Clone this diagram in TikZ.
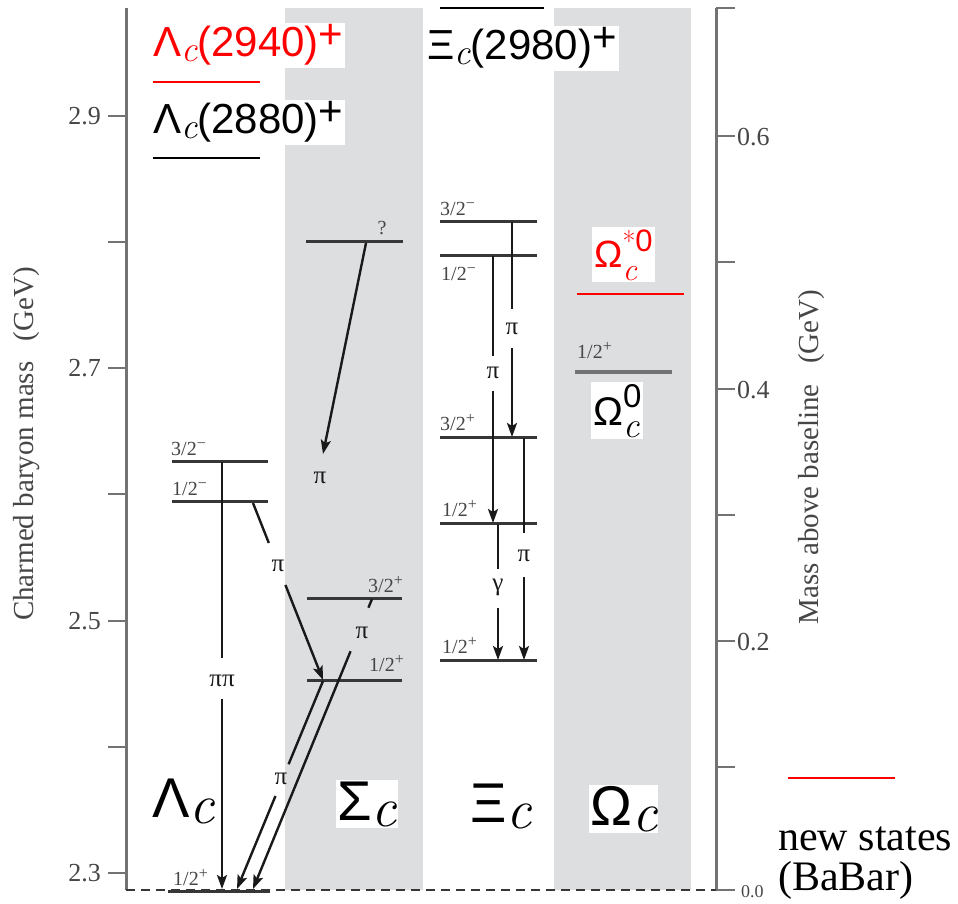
\documentclass[tikz,border=0pt]{standalone}
\usepackage{fontspec}
\usetikzlibrary{arrows.meta,calc}
\newfontfamily\lsans{Liberation Sans}
\newfontfamily\lserif{Liberation Serif}
\newcommand\fs[1]{\fontsize{#1}{#1}\selectfont}
\newcommand\itc[1]{{\fs{#1}\normalfont\itshape c}}
\newcommand\spm[1]{\raisebox{7pt}{\fs{16}#1}}
\definecolor{bandc}{RGB}{221,222,224}
\definecolor{levc}{RGB}{55,55,55}
\definecolor{arrc}{RGB}{25,25,25}
\definecolor{axc}{RGB}{115,115,115}
\definecolor{labc}{RGB}{70,70,70}
\newcommand\brk[4]{\draw[seg] (#1) -- ($(#1)!#3!(#2)$); \draw[decay] ($(#1)!#4!(#2)$) -- (#2);}
\begin{document}
\begin{tikzpicture}[x=1pt,y=-1pt,line cap=butt,
  level/.style={draw=levc,line width=3pt},
  newlvl/.style={draw=red,line width=2.2pt},
  blk/.style={draw=black,line width=2.4pt},
  decay/.style={draw=arrc,line width=2.4pt,-{Stealth[length=14pt,width=10pt,inset=3pt]}},
  seg/.style={draw=arrc,line width=2.4pt},
  jp/.style={font=\lserif\fs{20},text=labc,inner sep=0pt},
  gl/.style={font=\lserif\fs{25},text=arrc,inner sep=0pt},
  axis/.style={draw=axc,line width=3pt},
  tick/.style={draw=axc,line width=2.6pt},
  ticklab/.style={font=\lserif\fs{26},text=labc,inner sep=0pt},
  big/.style={font=\lsans\fs{56},inner sep=1pt},
  top/.style={font=\lsans\fs{42},inner sep=2pt,fill=white}]
\path[use as bounding box] (0,0) rectangle (958,904);
% bands
\fill[bandc] (285,8) rectangle (423,890);
\fill[bandc] (554,8) rectangle (691,890);
% axes
\draw[axis] (126,8) -- (126,890);
\draw[axis] (716,8) -- (716,890);
\foreach \y in {116,242,368,494,621,747,873} \draw[tick] (108,\y) -- (126,\y);
\foreach \y in {8,136,262,389,515,641,767,890} \draw[tick] (716,\y) -- (735,\y);
\node[ticklab,anchor=east] (t29) at (101,116) {2.9};
\node[ticklab,anchor=east] (t27) at (101,368) {2.7};
\node[ticklab,anchor=east] (t25) at (101,621) {2.5};
\node[ticklab,anchor=east] (t23) at (101,873) {2.3};
\node[ticklab,anchor=west] (r06) at (737,137) {0.6};
\node[ticklab,anchor=west] (r04) at (737,390) {0.4};
\node[ticklab,anchor=west] (r02) at (737,642) {0.2};
\node[font=\lserif\fs{18},text=labc,inner sep=0pt,anchor=base west] (r00) at (741,897) {0.0};
\node[rotate=90,font=\lserif\fs{29},text=labc] (ylab) at (27,444) {Charmed baryon mass\hspace{0.7em}(GeV)};
\node[rotate=90,font=\lserif\fs{29},text=labc] (rlab) at (812,457) {Mass above baseline\hspace{0.7em}(GeV)};
% baseline
\draw[draw=levc,line width=2.2pt,dash pattern=on 9pt off 6pt] (126,890) -- (716,890);
% Lambda_c levels
\draw[newlvl] (153,82) -- (260,82);
\draw[blk] (153,158) -- (260,158);
\draw[level] (172,461) -- (268,461);
\draw[level] (172,501) -- (268,501);
\draw[level] (168,891) -- (270,891);
\node[jp,anchor=base west] (l32m) at (171,455) {3/2\spm{−}};
\node[jp,anchor=base west] (l12m) at (172,495) {1/2\spm{−}};
\node[jp,anchor=base west] (l12p) at (173,885) {1/2\spm{+}};
% Sigma_c levels
\draw[level] (306,241) -- (403,241);
\draw[level] (307,598) -- (402,598);
\draw[level] (307,680) -- (402,680);
\node[jp,anchor=base] (sq) at (382,234) {?};
\node[jp,anchor=base east] (s32p) at (403,592) {3/2\spm{+}};
\node[jp,anchor=base east] (s12p) at (404,671) {1/2\spm{+}};
% Xi_c levels
\draw[blk] (440,8) -- (544,8);
\draw[level] (440,221) -- (537,221);
\draw[level] (440,255) -- (537,255);
\draw[level] (440,437) -- (537,437);
\draw[level] (440,523) -- (537,523);
\draw[level] (440,660) -- (537,660);
\node[jp,anchor=base west] (x32m) at (440,215) {3/2\spm{−}};
\node[jp,anchor=base west] (x12m) at (441,280) {1/2\spm{−}};
\node[jp,anchor=base west] (x32p) at (440,430) {3/2\spm{+}};
\node[jp,anchor=base west] (x12p) at (442,516) {1/2\spm{+}};
\node[jp,anchor=base west] (x12g) at (442,653) {1/2\spm{+}};
% Omega_c levels
\draw[newlvl] (577,294) -- (684,294);
\draw[draw=axc,line width=3.2pt] (575,372) -- (672,372);
\node[jp,anchor=base west] (o12p) at (577,358) {1/2\spm{+}};
% coordinates for decays
\coordinate (La) at (222,462); \coordinate (Lb) at (222,889);
\coordinate (Pa) at (253,503); \coordinate (Pb) at (323,680);
\coordinate (Qa) at (323,681); \coordinate (Qb) at (237,889);
\coordinate (Ra) at (372,599); \coordinate (Rb) at (253,889);
\coordinate (Sa) at (366,243); \coordinate (Sb) at (323,454);
\coordinate (Aa) at (512,222); \coordinate (Ab) at (512,437);
\coordinate (Ba) at (493,256); \coordinate (Bb) at (493,523);
\coordinate (Ca) at (524,438); \coordinate (Cb) at (524,660);
\coordinate (Da) at (498,524); \coordinate (Db) at (498,660);
% decays
\brk{La}{Lb}{0.46}{0.554}
\node[gl] (gpp) at (222,681) {ππ};
\brk{Pa}{Pb}{0.226}{0.463}
\node[gl] (gp1) at (278,566) {π};
\brk{Qa}{Qb}{0.40}{0.553}
\node[gl] (gp2) at (281,779) {π};
\brk{Ra}{Rb}{0.03}{0.18}
\node[gl] (gp3) at (362,633) {π};
\draw[decay] (Sa) -- (Sb);
\node[gl] (gp4) at (320,478) {π};
\brk{Aa}{Ab}{0.403}{0.588}
\node[gl] (gp5) at (512,329) {π};
\brk{Ba}{Bb}{0.373}{0.504}
\node[gl] (gp6) at (493,373) {π};
\brk{Ca}{Cb}{0.43}{0.628}
\node[gl] (gp7) at (524,556) {π};
\brk{Da}{Db}{0.328}{0.62}
\node[gl] (gg) at (498,587) {γ};
% top labels
\node[top,text=red,anchor=base west] (n2940) at (151,57) {Λ\raisebox{-5pt}{\itc{36}}(2940)\raisebox{8pt}{+}};
\node[top,text=black,anchor=base west] (n2880) at (151,134) {Λ\raisebox{-5pt}{\itc{36}}(2880)\raisebox{8pt}{+}};
\node[top,text=black,anchor=base west] (n2980) at (425,60) {Ξ\raisebox{-5pt}{\itc{36}}(2980)\raisebox{8pt}{+}};
\node[font=\lsans\fs{38},fill=white,inner sep=2pt,text=red,anchor=base west] (nos) at (592,267) {Ω\rlap{\raisebox{-13pt}{\itc{32}}}\raisebox{16pt}{{\fs{28}\normalfont *}{\fs{31}0}}};
\node[font=\lsans\fs{40},fill=white,inner sep=2pt,text=black,anchor=base west] (no) at (591,425) {Ω\rlap{\raisebox{-12pt}{\itc{36}}}\raisebox{18pt}{\fs{33}0}};
% big labels
\node[big,anchor=base west] (bL) at (151,817) {Λ\raisebox{-6pt}{\itc{56}}};
\node[big,fill=white,anchor=base west] (bS) at (336,820) {Σ\raisebox{-6pt}{\itc{56}}};
\node[big,anchor=base west] (bX) at (469,822) {Ξ\raisebox{-6pt}{\itc{56}}};
\node[big,fill=white,anchor=base west] (bO) at (589,825) {Ω\raisebox{-6pt}{\itc{56}}};
% legend
\draw[newlvl] (788,778) -- (895,778);
\node[font=\lserif\fs{42},inner sep=0pt,anchor=base west] (leg1) at (778,850) {new states};
\node[font=\lserif\fs{42},inner sep=0pt,anchor=base west] (leg2) at (778,890) {(BaBar)};
\end{tikzpicture}
\end{document}
